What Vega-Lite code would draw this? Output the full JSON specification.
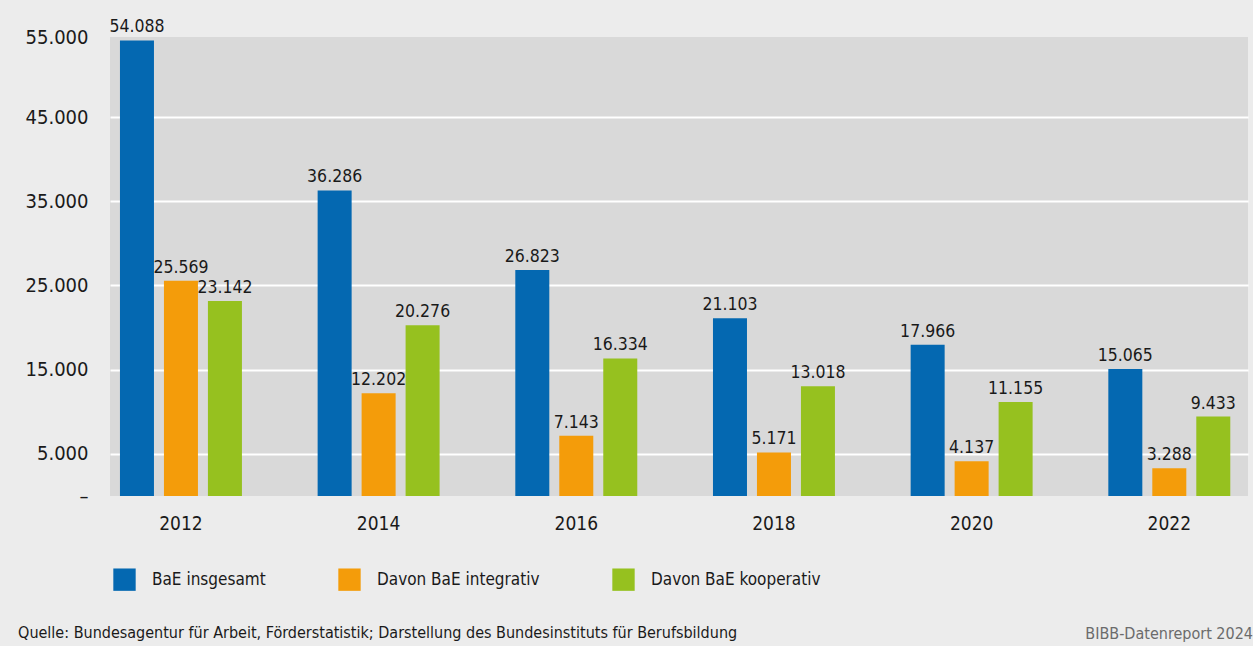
{
  "$schema": "https://vega.github.io/schema/vega-lite/v6.json",
  "background": "#ececec",
  "padding": {"left": 18, "top": 18, "right": 0, "bottom": 4},
  "config": {
    "font": "DejaVu Sans Condensed",
    "view": {"fill": "#d9d9d9", "stroke": null},
    "concat": {"spacing": 0},
    "locale": {"number": {"decimal": ",", "thousands": ".", "grouping": [3], "currency": ["", " €"]}}
  },
  "title": {
    "text": "Quelle: Bundesagentur für Arbeit, Förderstatistik; Darstellung des Bundesinstituts für Berufsbildung",
    "orient": "bottom", "anchor": "start", "fontSize": 16, "fontWeight": "normal", "color": "#1a1a1a", "offset": -17, "dx": -7
  },
  "resolve": {"legend": {"color": "independent"}},
  "vconcat": [
    {
      "width": 1138,
      "height": 459,
      "title": {"text": "BIBB-Datenreport 2024", "orient": "bottom", "anchor": "end", "fontSize": 16, "fontWeight": "normal", "color": "#6b6b6b", "offset": 32, "dx": 5},
      "data": {"values": [
        {"year": "2012", "series": "BaE insgesamt", "value": 54088},
        {"year": "2012", "series": "Davon BaE integrativ", "value": 25569},
        {"year": "2012", "series": "Davon BaE kooperativ", "value": 23142},
        {"year": "2014", "series": "BaE insgesamt", "value": 36286},
        {"year": "2014", "series": "Davon BaE integrativ", "value": 12202},
        {"year": "2014", "series": "Davon BaE kooperativ", "value": 20276},
        {"year": "2016", "series": "BaE insgesamt", "value": 26823},
        {"year": "2016", "series": "Davon BaE integrativ", "value": 7143},
        {"year": "2016", "series": "Davon BaE kooperativ", "value": 16334},
        {"year": "2018", "series": "BaE insgesamt", "value": 21103},
        {"year": "2018", "series": "Davon BaE integrativ", "value": 5171},
        {"year": "2018", "series": "Davon BaE kooperativ", "value": 13018},
        {"year": "2020", "series": "BaE insgesamt", "value": 17966},
        {"year": "2020", "series": "Davon BaE integrativ", "value": 4137},
        {"year": "2020", "series": "Davon BaE kooperativ", "value": 11155},
        {"year": "2022", "series": "BaE insgesamt", "value": 15065},
        {"year": "2022", "series": "Davon BaE integrativ", "value": 3288},
        {"year": "2022", "series": "Davon BaE kooperativ", "value": 9433}
      ]},
      "encoding": {
        "x": {
          "field": "year", "type": "nominal",
          "scale": {"paddingInner": 0.383, "paddingOuter": 0.07, "align": 0.36},
          "axis": {"title": null, "labelAngle": 0, "labelFontSize": 19, "labelColor": "#1a1a1a", "labelPadding": 18, "ticks": false, "domain": false, "grid": false}
        },
        "xOffset": {
          "field": "series", "type": "nominal",
          "scale": {"domain": ["BaE insgesamt", "Davon BaE integrativ", "Davon BaE kooperativ"], "paddingInner": 0.227, "paddingOuter": 0}
        },
        "y": {
          "field": "value", "type": "quantitative",
          "scale": {"domain": [0, 54500], "nice": false},
          "axis": {
            "title": null, "values": [0, 5000, 15000, 25000, 35000, 45000, 54500],
            "labelExpr": "datum.value == 0 ? '–' : datum.value == 54500 ? '55.000' : datum.label",
            "format": ",d",
            "labelFontSize": 20, "labelColor": "#1a1a1a", "labelPadding": 22,
            "ticks": false, "domain": false,
            "gridColor": {"condition": {"test": "datum.value == 0 || datum.value == 54500", "value": "transparent"}, "value": "#ffffff"},
            "gridWidth": 2
          }
        },
        "color": {
          "field": "series", "type": "nominal",
          "scale": {"domain": ["BaE insgesamt", "Davon BaE integrativ", "Davon BaE kooperativ"], "range": ["#0468b1", "#f49c0a", "#96c11f"]},
          "legend": {
            "title": null, "orient": "bottom", "direction": "horizontal",
            "symbolType": "square", "symbolSize": 500, "symbolStrokeWidth": 0,
            "labelFontSize": 17, "labelColor": "#1a1a1a", "labelOffset": 16, "labelLimit": 0,
            "columnPadding": 72, "offset": 32, "padding": 3
          }
        }
      },
      "layer": [
        {"mark": {"type": "bar"}},
        {
          "mark": {"type": "text", "baseline": "bottom", "dy": -4, "fontSize": 17.5, "color": "#1a1a1a"},
          "encoding": {"text": {"field": "value", "type": "quantitative", "format": ",d"}, "color": {"value": "#1a1a1a"}}
        }
      ]
    }
  ]
}
